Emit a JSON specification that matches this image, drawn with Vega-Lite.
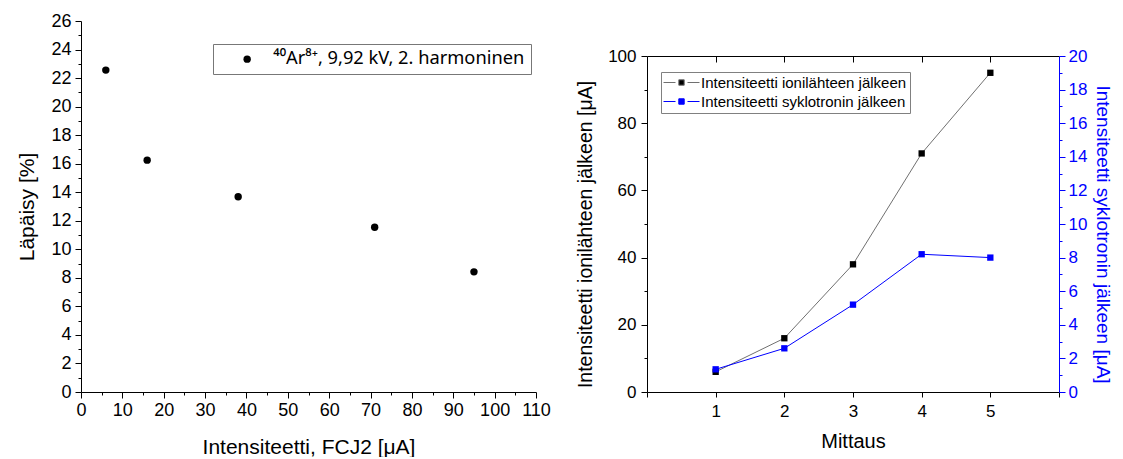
{
  "$schema": "https://vega.github.io/schema/vega-lite/v6.json",
  "background": "white",
  "padding": {"left": 16, "top": 12, "right": 8, "bottom": 0},
  "config": {
    "view": {"stroke": null},
    "font": "Liberation Sans",
    "axis": {"grid": false, "domainColor": "black", "tickColor": "black", "labelColor": "black", "titleColor": "black", "titleFontWeight": "normal", "labelFont": "Liberation Sans", "titleFont": "Liberation Sans", "domainWidth": 1, "tickWidth": 1},
    "legend": {"labelFont": "Liberation Sans", "labelColor": "black"}
  },
  "datasets": {
    "lapaisy": [
      {"intensiteetti": 6, "lapaisy": 22.56, "sarja": "⁴⁰Ar⁸⁺, 9,92 kV, 2. harmoninen"},
      {"intensiteetti": 16, "lapaisy": 16.25, "sarja": "⁴⁰Ar⁸⁺, 9,92 kV, 2. harmoninen"},
      {"intensiteetti": 38, "lapaisy": 13.68, "sarja": "⁴⁰Ar⁸⁺, 9,92 kV, 2. harmoninen"},
      {"intensiteetti": 71, "lapaisy": 11.55, "sarja": "⁴⁰Ar⁸⁺, 9,92 kV, 2. harmoninen"},
      {"intensiteetti": 95, "lapaisy": 8.42, "sarja": "⁴⁰Ar⁸⁺, 9,92 kV, 2. harmoninen"}
    ],
    "mittaukset": [
      {"mittaus": 1, "sarja2": "Intensiteetti ionilähteen jälkeen", "arvo": 6},
      {"mittaus": 2, "sarja2": "Intensiteetti ionilähteen jälkeen", "arvo": 16},
      {"mittaus": 3, "sarja2": "Intensiteetti ionilähteen jälkeen", "arvo": 38},
      {"mittaus": 4, "sarja2": "Intensiteetti ionilähteen jälkeen", "arvo": 71},
      {"mittaus": 5, "sarja2": "Intensiteetti ionilähteen jälkeen", "arvo": 95},
      {"mittaus": 1, "sarja2": "Intensiteetti syklotronin jälkeen", "arvo": 1.35},
      {"mittaus": 2, "sarja2": "Intensiteetti syklotronin jälkeen", "arvo": 2.6},
      {"mittaus": 3, "sarja2": "Intensiteetti syklotronin jälkeen", "arvo": 5.2},
      {"mittaus": 4, "sarja2": "Intensiteetti syklotronin jälkeen", "arvo": 8.2},
      {"mittaus": 5, "sarja2": "Intensiteetti syklotronin jälkeen", "arvo": 8.0}
    ]
  },
  "resolve": {
    "scale": {"color": "independent", "fill": "independent", "stroke": "independent"},
    "legend": {"color": "independent", "fill": "independent", "stroke": "independent"}
  },
  "spacing": 24,
  "hconcat": [
    {
      "width": 455,
      "height": 371,
      "data": {"name": "lapaisy"},
      "layer": [
        {
          "mark": {"type": "circle", "size": 55, "opacity": 1},
          "encoding": {
            "x": {"field": "intensiteetti", "type": "quantitative", "scale": {"domain": [0, 110], "nice": false},
              "axis": {"orient": "bottom", "values": [0, 10, 20, 30, 40, 50, 60, 70, 80, 90, 100, 110], "title": "Intensiteetti, FCJ2 [μA]", "tickSize": 6, "labelPadding": 3, "labelFontSize": 18, "titleFontSize": 21, "titlePadding": 17, "labelFlush": false, "labelOverlap": false}},
            "y": {"field": "lapaisy", "type": "quantitative", "scale": {"domain": [0, 26], "nice": false},
              "axis": {"orient": "left", "values": [0, 2, 4, 6, 8, 10, 12, 14, 16, 18, 20, 22, 24, 26], "title": "Läpäisy [%]", "tickSize": 6, "labelPadding": 4, "labelFontSize": 18, "titleFontSize": 21, "titlePadding": 13, "labelFlush": false, "labelOverlap": false}},
            "color": {"field": "sarja", "type": "nominal", "scale": {"range": ["black"]},
              "legend": {"orient": "none", "legendX": 132, "legendY": 23, "title": null, "strokeColor": "#777777", "fillColor": "white", "padding": 6, "symbolOffset": 19, "labelOffset": 17, "labelFont": "Noto Sans", "labelFontSize": 18.3, "symbolSize": 55, "symbolType": "circle", "labelLimit": 400}}
          }
        },
        {
          "mark": {"type": "circle", "size": 55, "opacity": 0},
          "encoding": {
            "x": {"field": "intensiteetti", "type": "quantitative", "scale": {"domain": [0, 110], "nice": false},
              "axis": {"orient": "bottom", "values": [5, 15, 25, 35, 45, 55, 65, 75, 85, 95, 105], "labels": false, "title": null, "domain": false, "tickSize": 3}},
            "y": {"field": "lapaisy", "type": "quantitative", "scale": {"domain": [0, 26], "nice": false},
              "axis": {"orient": "left", "values": [1, 3, 5, 7, 9, 11, 13, 15, 17, 19, 21, 23, 25], "labels": false, "title": null, "domain": false, "tickSize": 3}}
          }
        }
      ],
      "resolve": {"axis": {"x": "independent", "y": "independent"}}
    },
    {
      "spacing": 0,
      "vconcat": [
        {"width": 10, "height": 26, "data": {"values": []}, "mark": {"type": "point", "opacity": 0}, "encoding": {}},
        {
          "width": 412,
          "height": 336,
          "data": {"name": "mittaukset"},
          "layer": [
            {
              "transform": [{"filter": "datum.sarja2 === 'Intensiteetti ionilähteen jälkeen'"}],
              "mark": {"type": "line", "strokeWidth": 1},
              "encoding": {
                "x": {"field": "mittaus", "type": "quantitative", "scale": {"domain": [0, 6], "nice": false},
                  "axis": {"orient": "bottom", "values": [0, 1, 2, 3, 4, 5, 6], "labelExpr": "datum.value >= 1 && datum.value <= 5 ? datum.label : ''", "title": "Mittaus", "tickSize": 5, "labelPadding": 6, "labelFontSize": 17, "titleFontSize": 20, "titlePadding": 12, "labelFlush": false}},
                "y": {"field": "arvo", "type": "quantitative", "scale": {"domain": [0, 100], "nice": false},
                  "axis": {"orient": "left", "values": [0, 20, 40, 60, 80, 100], "title": "Intensiteetti ionilähteen jälkeen [μA]", "tickSize": 6, "labelPadding": 5, "labelFontSize": 17, "titleFontSize": 19.5, "titlePadding": 12, "titleY": 178, "labelFlush": false}},
                "stroke": {"field": "sarja2", "type": "nominal", "scale": {"domain": ["Intensiteetti ionilähteen jälkeen", "Intensiteetti syklotronin jälkeen"], "range": ["#707070", "#0000ff"]},
                  "legend": {"orient": "none", "legendX": 14, "legendY": 51, "title": null, "strokeColor": "#808080", "fillColor": "white", "padding": 3, "rowPadding": 3, "labelFontSize": 15, "labelLimit": 400, "symbolType": "M-3,0H-1M1,0H3M-0.45,-0.45H0.45V0.45H-0.45Z", "symbolSize": 144, "symbolStrokeWidth": 1, "symbolOffset": 10, "labelOffset": 12}}
              }
            },
            {
              "transform": [{"filter": "datum.sarja2 === 'Intensiteetti ionilähteen jälkeen'"}],
              "mark": {"type": "square", "size": 40, "filled": true, "opacity": 1},
              "encoding": {
                "x": {"field": "mittaus", "type": "quantitative", "scale": {"domain": [0, 6], "nice": false},
                  "axis": {"orient": "top", "values": [1, 2, 3, 4, 5], "labels": false, "title": null, "tickSize": -6}},
                "y": {"field": "arvo", "type": "quantitative", "scale": {"domain": [0, 100], "nice": false},
                  "axis": {"orient": "left", "values": [10, 30, 50, 70, 90], "labels": false, "title": null, "domain": false, "tickSize": 3}},
                "fill": {"field": "sarja2", "type": "nominal", "scale": {"domain": ["Intensiteetti ionilähteen jälkeen", "Intensiteetti syklotronin jälkeen"], "range": ["black", "#0000ff"]},
                  "legend": {"orient": "none", "legendX": 14, "legendY": 51, "title": null, "strokeColor": "#808080", "fillColor": "white", "padding": 3, "rowPadding": 3, "labelFontSize": 15, "labelLimit": 400, "symbolType": "M-3,0H-1M1,0H3M-0.45,-0.45H0.45V0.45H-0.45Z", "symbolSize": 144, "symbolStrokeWidth": 1, "symbolOffset": 10, "labelOffset": 12}}
              }
            },
            {
              "transform": [{"filter": "datum.sarja2 === 'Intensiteetti syklotronin jälkeen'"}],
              "mark": {"type": "line", "strokeWidth": 1},
              "encoding": {
                "x": {"field": "mittaus", "type": "quantitative", "scale": {"domain": [0, 6], "nice": false}, "axis": null},
                "y": {"field": "arvo", "type": "quantitative", "scale": {"domain": [0, 20], "nice": false},
                  "axis": {"orient": "right", "values": [0, 2, 4, 6, 8, 10, 12, 14, 16, 18, 20], "title": "Intensiteetti syklotronin jälkeen [μA]", "tickSize": 6, "labelPadding": 3, "labelFontSize": 17, "titleFontSize": 19, "titlePadding": 6, "titleY": 178, "labelFlush": false, "domainColor": "#0000ff", "tickColor": "#0000ff", "labelColor": "#0000ff", "titleColor": "#0000ff"}},
                "stroke": {"field": "sarja2", "type": "nominal", "scale": {"domain": ["Intensiteetti ionilähteen jälkeen", "Intensiteetti syklotronin jälkeen"], "range": ["#707070", "#0000ff"]},
                  "legend": {"orient": "none", "legendX": 14, "legendY": 51, "title": null, "strokeColor": "#808080", "fillColor": "white", "padding": 3, "rowPadding": 3, "labelFontSize": 15, "labelLimit": 400, "symbolType": "M-3,0H-1M1,0H3M-0.45,-0.45H0.45V0.45H-0.45Z", "symbolSize": 144, "symbolStrokeWidth": 1, "symbolOffset": 10, "labelOffset": 12}}
              }
            },
            {
              "transform": [{"filter": "datum.sarja2 === 'Intensiteetti syklotronin jälkeen'"}],
              "mark": {"type": "square", "size": 40, "filled": true, "opacity": 1},
              "encoding": {
                "x": {"field": "mittaus", "type": "quantitative", "scale": {"domain": [0, 6], "nice": false}, "axis": null},
                "y": {"field": "arvo", "type": "quantitative", "scale": {"domain": [0, 20], "nice": false},
                  "axis": {"orient": "right", "values": [1, 3, 5, 7, 9, 11, 13, 15, 17, 19], "labels": false, "title": null, "domain": false, "tickSize": 3, "tickColor": "#0000ff"}},
                "fill": {"field": "sarja2", "type": "nominal", "scale": {"domain": ["Intensiteetti ionilähteen jälkeen", "Intensiteetti syklotronin jälkeen"], "range": ["black", "#0000ff"]},
                  "legend": {"orient": "none", "legendX": 14, "legendY": 51, "title": null, "strokeColor": "#808080", "fillColor": "white", "padding": 3, "rowPadding": 3, "labelFontSize": 15, "labelLimit": 400, "symbolType": "M-3,0H-1M1,0H3M-0.45,-0.45H0.45V0.45H-0.45Z", "symbolSize": 144, "symbolStrokeWidth": 1, "symbolOffset": 10, "labelOffset": 12}}
              }
            }
          ],
          "resolve": {"scale": {"y": "independent"}, "axis": {"x": "independent", "y": "independent"}}
        }
      ]
    }
  ]
}
